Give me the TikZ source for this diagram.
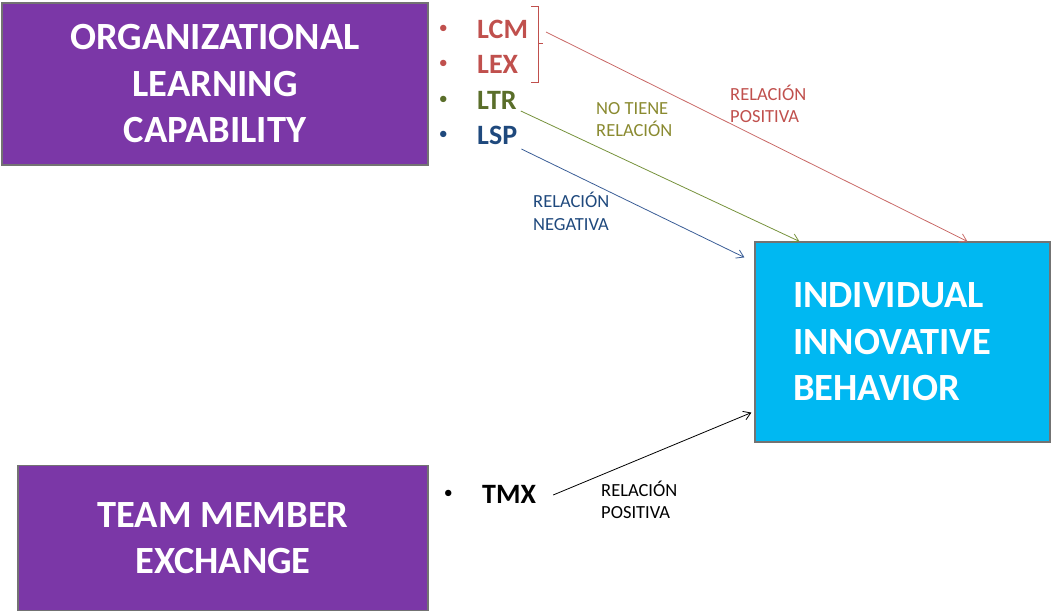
\documentclass[tikz,border=0pt]{standalone}
\usepackage{fontspec}
\setmainfont{Carlito}
\usetikzlibrary{arrows.meta}
\definecolor{boxpurple}{HTML}{7B37A7}
\definecolor{boxcyan}{HTML}{00B8F2}
\definecolor{relred}{HTML}{C0504D}
\definecolor{relolive}{HTML}{76923C}
\definecolor{ltrolive}{HTML}{5A6E2A}
\definecolor{noteolive}{HTML}{8A8A30}
\definecolor{relblue}{HTML}{3A5D96}
\definecolor{lspblue}{HTML}{1F497D}
\begin{document}
\begin{tikzpicture}[x=1pt,y=-1pt,
    bigbox/.style={draw=black!55, line width=1.2pt, text=white, align=center,
      font=\bfseries\fontsize{38.5}{46.5}\selectfont},
    bulletitem/.style={anchor=west, inner sep=0pt, text=#1,
      font=\bfseries\fontsize{28}{34}\selectfont,
      label={[text=#1, inner sep=0pt, label distance=29pt,
        font=\fontsize{18}{20}\selectfont]left:\textbullet}},
    note/.style={anchor=base west, align=left, inner sep=0pt,
      font=\fontsize{18.5}{22}\selectfont},
    link/.style={-{Straight Barb[length=7pt,width=9pt]}, line width=0.8pt}]
  \useasboundingbox (0,0) rectangle (1051,612);
  \node[bigbox, fill=boxpurple, minimum width=426pt, minimum height=162pt]
    (olc) at (215,84) {ORGANIZATIONAL\\LEARNING\\CAPABILITY};
  \node[bigbox, fill=boxpurple, minimum width=410pt, minimum height=145pt]
    (tme) at (223,538) {TEAM MEMBER\\EXCHANGE};
  \node[bigbox, fill=boxcyan, align=left, text width=219pt, inner xsep=38pt,
    minimum height=200pt] (iib) at (902.5,342) {INDIVIDUAL\\INNOVATIVE\\BEHAVIOR};
  \node[bulletitem=relred] (lcm) at (477,29) {LCM};
  \node[bulletitem=relred] (lex) at (477,64) {LEX};
  \node[bulletitem=ltrolive] (ltr) at (477,100) {LTR};
  \node[bulletitem=lspblue] (lsp) at (477,135) {LSP};
  \node[bulletitem=black] (tmx) at (482,494) {TMX};
  \draw[relred, line width=0.8pt] (531,6) -- (538,6) -- (538,82) -- (531,82)
    (538,43) -- (543,43);
  \coordinate (brk) at (546,32);
  \begin{scope}[link]
    \draw[relred!85] (brk) -- ([xshift=213pt]iib.north west);
    \draw[relolive] ([xshift=4pt,yshift=-11pt]ltr.east) -- ([xshift=45pt]iib.north west);
    \draw[relblue] ([xshift=4pt,yshift=-14pt]lsp.east) -- ([xshift=-10pt,yshift=-16pt]iib.north west);
    \draw[black] ([xshift=17pt,yshift=-1pt]tmx.east) -- ([xshift=-3pt,yshift=30pt]iib.south west);
  \end{scope}
  \node[note, text=relred] (lblpos) at (730,123) {RELACIÓN\\POSITIVA};
  \node[note, text=noteolive] (lblnone) at (596,137) {NO TIENE\\RELACIÓN};
  \node[note, text=lspblue] (lblneg) at (533,230) {RELACIÓN\\NEGATIVA};
  \node[note, text=black] (lbltmx) at (601,518) {RELACIÓN\\POSITIVA};
\end{tikzpicture}
\end{document}
